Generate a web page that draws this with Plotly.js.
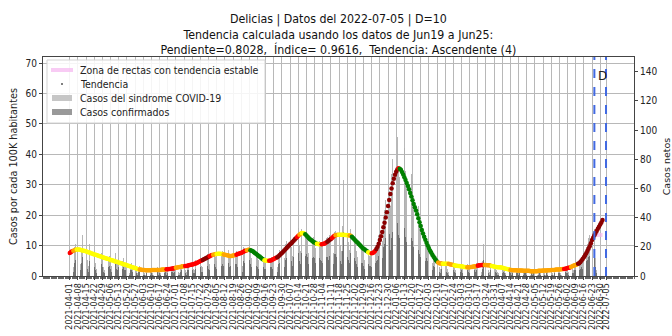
<!DOCTYPE html>
<html>
<head>
<meta charset="utf-8">
<script src="https://cdn.plot.ly/plotly-3.0.1.min.js"></script>
<style>
html,body{margin:0;padding:0;background:#fff;}
#chart{width:672px;height:336px;}
</style>
</head>
<body>
<div id="chart"></div>
<script>
// ---- Data ----
const meses = ['2021-04','2021-05','2021-06','2021-07','2021-08','2021-09','2021-10','2021-11','2021-12',
               '2022-01','2022-02','2022-03','2022-04','2022-05','2022-06','2022-07'];

// Trend (cases per 100K inhabitants), one sub-array per month, daily values
const tendenciaPorMes = [
  [7.6,7.9,8.1,8.3,8.5,8.6,8.7,8.7,8.7,8.6,8.5,8.4,8.3,8.2,8.1,7.9,7.8,7.7,7.5,7.4,7.2,7.1,7.0,6.9,6.7,6.6,6.5,6.3,6.2,6.1],
  [5.9,5.8,5.7,5.6,5.5,5.3,5.2,5.1,4.9,4.8,4.7,4.6,4.4,4.3,4.2,4.0,3.9,3.8,3.7,3.5,3.4,3.3,3.1,3.0,2.9,2.7,2.6,2.5,2.3,2.2,2.1],
  [2.1,2.0,2.0,2.0,1.9,1.9,1.9,1.9,1.9,1.9,2.0,2.0,2.0,2.0,2.0,2.0,2.0,2.0,2.1,2.1,2.1,2.1,2.2,2.2,2.3,2.3,2.4,2.5,2.5,2.6],
  [2.7,2.8,2.9,3.0,3.0,3.1,3.2,3.2,3.3,3.3,3.4,3.5,3.6,3.7,3.8,3.9,4.0,4.1,4.3,4.5,4.7,4.9,5.1,5.3,5.5,5.7,5.9,6.1,6.3,6.5,6.7],
  [6.9,7.0,7.1,7.2,7.2,7.3,7.3,7.3,7.2,7.2,7.1,7.0,6.9,6.8,6.7,6.6,6.6,6.6,6.7,6.8,6.9,7.0,7.2,7.3,7.5,7.6,7.8,8.0,8.2,8.3,8.5],
  [8.6,8.6,8.5,8.3,8.1,7.8,7.5,7.2,6.9,6.6,6.3,6.0,5.7,5.4,5.2,5.1,5.0,5.0,5.0,5.1,5.2,5.4,5.6,5.8,6.0,6.2,6.5,6.8,7.2,7.6],
  [8.0,8.4,8.8,9.2,9.6,10.0,10.4,10.8,11.2,11.6,12.0,12.4,12.8,13.2,13.6,13.9,14.1,14.1,14.0,13.7,13.3,12.9,12.5,12.1,11.8,11.5,11.2,11.0,10.8,10.6,10.5],
  [10.4,10.4,10.4,10.5,10.6,10.8,11.0,11.3,11.6,11.9,12.2,12.5,12.9,13.2,13.4,13.5,13.6,13.6,13.6,13.6,13.6,13.6,13.5,13.5,13.4,13.4,13.3,13.2,12.9,12.5],
  [12.1,11.7,11.3,10.9,10.5,10.1,9.7,9.3,9.0,8.7,8.4,8.1,7.8,7.6,7.5,7.5,7.6,7.9,8.3,8.9,9.6,10.6,11.8,13.1,14.5,16.0,17.5,19.2,21.0,23.0,25.0],
  [27.0,28.8,30.5,32.0,33.3,34.3,35.0,35.4,35.3,34.9,34.2,33.4,32.5,31.6,30.6,29.6,28.5,27.3,26.1,24.9,23.7,22.6,21.5,20.3,19.0,17.7,16.4,15.1,14.0,12.9,11.9],
  [10.9,10.0,9.2,8.4,7.7,7.0,6.4,5.8,5.3,4.8,4.4,4.2,4.1,4.1,4.0,4.0,4.0,4.0,4.0,4.0,3.9,3.8,3.7,3.6,3.5,3.4,3.4,3.3],
  [3.3,3.2,3.2,3.1,3.0,3.0,2.9,2.9,2.9,2.9,3.0,3.0,3.1,3.1,3.2,3.3,3.4,3.5,3.5,3.6,3.6,3.6,3.6,3.6,3.5,3.5,3.5,3.4,3.3,3.2,3.1],
  [3.0,3.0,2.9,2.9,2.9,2.8,2.7,2.6,2.5,2.4,2.3,2.2,2.1,2.0,2.0,1.9,1.9,1.9,1.9,1.8,1.8,1.8,1.8,1.8,1.7,1.7,1.7,1.7,1.7,1.7],
  [1.6,1.6,1.6,1.6,1.6,1.6,1.6,1.7,1.7,1.7,1.7,1.8,1.8,1.8,1.8,1.9,1.9,1.9,2.0,2.0,2.0,2.0,2.1,2.1,2.1,2.1,2.2,2.2,2.3,2.3,2.4],
  [2.5,2.6,2.7,2.8,3.0,3.2,3.4,3.5,3.6,3.8,4.0,4.2,4.6,5.1,5.6,6.2,6.8,7.5,8.2,9.0,9.8,10.8,11.8,12.6,13.4,14.1,14.8,15.5,16.2,16.9],
  [17.6,18.4]
];

// Trend category per period (last date of each run, category)
const tendenciaCategorias = [
  ['2021-04-03','Ascendente'],['2021-04-06','Ligera'],['2021-05-30','Estable'],['2021-06-22','Ligera'],
  ['2021-06-30','Ascendente'],['2021-07-08','Ligera'],['2021-07-23','Ascendente'],['2021-07-29','Fuerte'],
  ['2021-08-01','Ascendente'],['2021-08-04','Ligera'],['2021-08-10','Estable'],['2021-08-21','Ligera'],
  ['2021-08-30','Ascendente'],['2021-09-02','Ligera'],['2021-09-14','Descendente'],['2021-09-18','Estable'],
  ['2021-09-25','Ascendente'],['2021-10-12','Fuerte'],['2021-10-14','Ascendente'],['2021-10-16','Ligera'],
  ['2021-10-19','Estable'],['2021-10-29','Descendente'],['2021-11-02','Estable'],['2021-11-07','Ascendente'],
  ['2021-11-11','Fuerte'],['2021-11-14','Ascendente'],['2021-11-17','Ligera'],['2021-11-26','Estable'],
  ['2021-11-28','Ligera'],['2021-12-12','Descendente'],['2021-12-15','Estable'],['2021-12-19','Ascendente'],
  ['2022-01-07','Fuerte'],['2022-01-08','Ascendente'],['2022-02-10','Descendente'],['2022-02-14','Ligera'],
  ['2022-02-19','Estable'],['2022-02-24','Ligera'],['2022-03-07','Estable'],['2022-03-16','Ligera'],
  ['2022-03-22','Ascendente'],['2022-03-28','Ligera'],['2022-04-13','Estable'],['2022-05-29','Ligera'],
  ['2022-06-04','Ascendente'],['2022-06-10','Ligera'],['2022-07-02','Fuerte']
];

// Daily net cases: COVID-19 syndrome cases (light) and confirmed cases (dark), per month
const sindromePorMes = [
  [12,18,9,6,20,22,25,17,14,8,19,28,16,21,19,11,7,22,18,15,20,13,9,5,17,21,14,16,12,6],
  [4,15,18,12,14,10,7,3,13,16,11,9,12,6,4,10,12,8,9,7,3,2,8,9,7,6,5,4,2,6,7],
  [5,4,3,2,1,5,6,4,3,5,2,1,4,5,6,3,4,2,1,5,4,6,3,5,2,3,6,7,5,6],
  [4,7,3,2,6,8,5,7,4,3,8,9,6,7,9,5,4,11,10,12,9,13,7,6,14,16,12,15,11,8,17],
  [18,15,16,13,10,7,19,20,14,17,15,12,8,16,18,13,14,11,9,5,16,17,13,18,15,9,7,20,19,17,21],
  [16,22,17,12,8,20,19,15,13,11,8,5,14,12,10,11,9,6,4,12,13,10,14,13,9,6,16,18,17,20],
  [15,12,22,24,19,25,26,20,14,27,29,28,24,33,21,17,32,38,35,29,31,26,16,50,30,25,27,24,19,14,26],
  [24,22,21,18,13,20,26,27,23,28,24,19,16,30,31,27,33,28,21,17,34,66,31,29,27,23,18,32,27,22],
  [25,21,17,13,26,22,19,18,15,11,8,17,16,14,15,12,9,7,18,20,23,28,30,26,24,40,45,52,60,64,58],
  [48,70,80,92,98,104,95,75,68,90,105,100,88,72,60,58,78,82,70,65,55,42,40,52,48,40,36,30,24,22,28],
  [25,20,18,15,12,9,14,13,11,9,8,6,5,10,9,8,10,7,5,3,9,8,7,9,6,4,3,8],
  [7,6,8,5,3,2,7,8,6,5,7,4,3,8,7,9,6,8,4,3,10,22,8,9,7,4,3,8,6,7,5],
  [6,4,3,2,7,6,5,6,4,2,1,5,6,4,3,4,2,1,5,4,3,4,2,1,2,5,4,3,4,2],
  [1,4,3,4,3,2,1,3,4,2,5,3,2,1,4,3,5,4,3,2,1,4,5,3,4,5,2,1,4,5,6],
  [5,4,3,7,6,5,4,8,9,7,6,8,10,12,11,14,13,20,22,26,28,30,36,40,32,12,4,0,0,0]
];
const confirmadosPorMes = [
  [6,8,4,3,9,11,12,8,7,4,9,13,8,10,9,5,3,10,9,7,10,6,4,2,8,10,7,8,6,3],
  [2,7,9,6,7,5,3,1,6,8,5,4,6,3,2,5,6,4,4,3,1,1,4,4,3,3,2,2,1,3,3],
  [2,2,1,1,0,2,3,2,1,2,1,0,2,2,3,1,2,1,0,2,2,3,1,2,1,1,3,3,2,3],
  [2,3,1,1,3,4,2,3,2,1,4,4,3,3,4,2,2,5,5,6,4,6,3,3,7,8,6,7,5,4,8],
  [9,7,8,6,5,3,9,10,7,8,7,6,4,8,9,6,7,5,4,2,8,8,6,9,7,4,3,10,9,8,10],
  [8,11,8,6,4,10,9,7,6,5,4,2,7,6,5,5,4,3,2,6,6,5,7,6,4,3,8,9,8,10],
  [7,6,11,12,9,12,13,10,7,13,14,14,12,16,10,8,16,19,17,14,15,13,8,25,15,12,13,12,9,7,13],
  [12,11,10,9,6,10,13,13,11,14,12,9,8,15,15,13,16,14,10,8,17,30,15,14,13,11,9,16,13,11],
  [12,10,8,6,13,11,9,9,7,5,4,8,8,7,7,6,4,3,9,10,11,14,15,13,12,20,22,26,30,32,29],
  [18,26,30,35,38,40,36,28,26,34,40,38,33,27,23,22,29,31,26,24,20,16,15,19,18,15,13,11,9,8,10],
  [12,10,9,7,6,4,7,6,5,4,4,3,2,5,4,4,5,3,2,1,4,4,3,4,3,2,1,4],
  [3,3,4,2,1,1,3,4,3,2,3,2,1,4,3,4,3,4,2,1,5,11,4,4,3,2,1,4,3,3,2],
  [3,2,1,1,3,3,2,3,2,1,0,2,3,2,1,2,1,0,2,2,1,2,1,0,1,2,2,1,2,1],
  [0,2,1,2,1,1,0,1,2,1,2,1,1,0,2,1,2,2,1,1,0,2,2,1,2,2,1,0,2,2,3],
  [2,2,1,3,3,2,2,4,4,3,3,4,5,6,5,7,6,10,11,13,14,15,18,20,16,6,2,0,0,0]
];

// Stable-trend zone (pink)
const zonaFechas = ['2022-06-26','2022-07-02'];
const zonaValores = [13.5, 13.5];

// Reference dates (vertical dashed lines)
const fechaFinTendencia = '2022-06-25';
const fechaDatos = '2022-07-05';

// X tick labels
const etiquetasX = ['2021-04-01','2021-04-08','2021-04-15','2021-04-22','2021-04-29','2021-05-06','2021-05-13','2021-05-20','2021-05-27',
'2021-06-03','2021-06-10','2021-06-17','2021-06-24','2021-07-01','2021-07-08','2021-07-15','2021-07-22','2021-07-29',
'2021-08-05','2021-08-12','2021-08-19','2021-08-26','2021-09-02','2021-09-09','2021-09-16','2021-09-23','2021-09-30',
'2021-10-07','2021-10-14','2021-10-21','2021-10-28','2021-11-04','2021-11-11','2021-11-18','2021-11-25','2021-12-02',
'2021-12-09','2021-12-16','2021-12-23','2021-12-30','2022-01-06','2022-01-13','2022-01-20','2022-01-27','2022-02-03',
'2022-02-10','2022-02-17','2022-02-24','2022-03-03','2022-03-10','2022-03-17','2022-03-24','2022-03-31','2022-04-07',
'2022-04-14','2022-04-21','2022-04-28','2022-05-05','2022-05-12','2022-05-19','2022-05-26','2022-06-02','2022-06-09',
'2022-06-16','2022-06-23','2022-06-30','2022-07-05'];

const titulo = 'Delicias | Datos del 2022-07-05 | D=10<br>Tendencia calculada usando los datos de Jun19 a Jun25:<br>Pendiente=0.8028,&nbsp; Índice= 0.9616,&nbsp; Tendencia: Ascendente (4)';

const nombreZona = 'Zona de rectas con tendencia estable';
const nombreTendencia = 'Tendencia';
const nombreSindrome = 'Casos del sindrome COVID-19';
const nombreConfirmados = 'Casos confirmados';

// ---- Build daily series ----
function fechaDia(mes, i) {
  const [y, m] = mes.split('-').map(Number);
  return new Date(Date.UTC(y, m - 1, 1 + i)).toISOString().slice(0, 10);
}
function aplanar(porMes) {
  const xs = [], ys = [];
  porMes.forEach((arr, k) => arr.forEach((v, i) => { xs.push(fechaDia(meses[k], i)); ys.push(v); }));
  return {xs, ys};
}
const tend = aplanar(tendenciaPorMes);
const sind = aplanar(sindromePorMes);
const conf = aplanar(confirmadosPorMes);

const colorCat = {Estable:'#ffff00', Ligera:'#ffa500', Ascendente:'#ff0000', Fuerte:'#8b0000', Descendente:'#008000'};
const tendColores = tend.xs.map(d => {
  for (const [fin, cat] of tendenciaCategorias) if (d <= fin) return colorCat[cat];
  return colorCat.Fuerte;
});

const DIA = 86400000;
const fontC = '"DejaVu Sans Condensed", "DejaVu Sans", sans-serif';
const fontN = '"DejaVu Sans", sans-serif';

// plot-area geometry (pixels) for the hand-made legend
const W = 672, H = 336, M = {l:43, r:38, t:57, b:60};
const pw = W - M.l - M.r, ph = H - M.t - M.b;
const px = p => (p - M.l) / pw;
const py = p => (H - M.b - p) / ph;

const colLight = 'rgba(175,175,175,0.9)';
const colDark = 'rgba(105,105,105,0.9)';
const colZona = 'rgba(245,185,240,0.75)';

const traces = [
  {type:'bar', x:sind.xs, y:sind.ys, yaxis:'y', width:0.5*DIA,
   marker:{color:colLight, line:{width:0}}, name:nombreSindrome, showlegend:false},
  {type:'bar', x:conf.xs, y:conf.ys, yaxis:'y', width:0.5*DIA,
   marker:{color:colDark, line:{width:0}}, name:nombreConfirmados, showlegend:false},
  {type:'scatter', mode:'lines', x:zonaFechas, y:zonaValores, yaxis:'y2',
   line:{color:colZona, width:4}, name:nombreZona, showlegend:false},
  {type:'scatter', mode:'markers', x:tend.xs, y:tend.ys, yaxis:'y2', showlegend:false,
   marker:{color:tendColores, size:4.5, line:{width:0}}, name:nombreTendencia}
];

// legend (drawn as shapes + annotations, matplotlib-like compact layout)
const legRows = [70, 84, 98, 112];
const legShapes = [
  {type:'rect', xref:'paper', yref:'paper', x0:px(47), x1:px(265), y0:py(123), y1:py(60),
   fillcolor:'rgba(255,255,255,0.85)', line:{color:'#d3d3d3', width:1}, layer:'above'},
  {type:'line', xref:'paper', yref:'paper', x0:px(51), x1:px(73), y0:py(legRows[0]), y1:py(legRows[0]),
   line:{color:colZona, width:4}, layer:'above'},
  {type:'circle', xref:'paper', yref:'paper', x0:px(61), x1:px(63), y0:py(legRows[1]+1), y1:py(legRows[1]-1),
   fillcolor:'#555', line:{width:0}, layer:'above'},
  {type:'rect', xref:'paper', yref:'paper', x0:px(52), x1:px(72), y0:py(legRows[2]+3), y1:py(legRows[2]-3),
   fillcolor:'#c6c6c6', line:{width:0}, layer:'above'},
  {type:'rect', xref:'paper', yref:'paper', x0:px(52), x1:px(72), y0:py(legRows[3]+3), y1:py(legRows[3]-3),
   fillcolor:'#999999', line:{width:0}, layer:'above'}
];
const legTexts = [nombreZona, nombreTendencia, nombreSindrome, nombreConfirmados].map((t, i) => ({
  text:t, xref:'paper', yref:'paper', x:px(78), y:py(legRows[i]), xanchor:'left', yanchor:'middle',
  showarrow:false, font:{family:fontC, size:10.5, color:'#222'}
}));

const layout = {
  width:W, height:H,
  margin:{l:M.l, r:M.r, t:M.t, b:M.b, pad:0},
  paper_bgcolor:'#ffffff', plot_bgcolor:'#ffffff',
  showlegend:false,
  barmode:'overlay', bargap:0,
  font:{family:fontC, size:10, color:'#222'},
  title:{text:titulo, x:0.5035, xanchor:'center', yref:'container', y:0.933, yanchor:'top',
         font:{family:fontC, size:12.3, color:'#111'}},
  xaxis:{type:'date', range:['2021-03-09','2022-07-29'],
         tickmode:'array', tickvals:etiquetasX, ticktext:etiquetasX, tickangle:-90,
         tickfont:{family:fontN, size:8, color:'#222'},
         ticks:'outside', ticklen:3, tickcolor:'#444',
         minor:{ticks:'outside', ticklen:2, tickcolor:'#666', dtick:DIA, tick0:'2021-03-01', showgrid:false},
         showgrid:true, gridcolor:'#b8b8b8', gridwidth:1,
         showline:true, mirror:true, linecolor:'#444', linewidth:1, zeroline:false, automargin:false},
  yaxis:{side:'right', range:[0,150], tickmode:'linear', tick0:0, dtick:20,
         showgrid:false, zeroline:false, showline:true, mirror:true, linecolor:'#444', linewidth:1,
         ticks:'outside', ticklen:3, tickcolor:'#444', tickfont:{family:fontC, size:10, color:'#222'},
         title:{text:'Casos netos', font:{family:fontN, size:9.5, color:'#222'}, standoff:6}, automargin:false},
  yaxis2:{overlaying:'y', side:'left', range:[0,72], tickmode:'linear', tick0:0, dtick:10,
          showgrid:true, gridcolor:'#b8b8b8', gridwidth:1, zeroline:false,
          ticks:'outside', ticklen:3, tickcolor:'#444', tickfont:{family:fontC, size:10, color:'#222'},
          title:{text:'Casos por cada 100K habitantes', font:{family:fontN, size:9.7, color:'#222'}, standoff:6}, automargin:false},
  shapes:[
    {type:'line', xref:'x', yref:'paper', x0:fechaFinTendencia, x1:fechaFinTendencia, y0:0, y1:1,
     line:{color:'#4169e1', width:2, dash:'dash'}, layer:'above'},
    {type:'line', xref:'x', yref:'paper', x0:fechaDatos, x1:fechaDatos, y0:0, y1:1,
     line:{color:'#4169e1', width:2, dash:'dash'}, layer:'above'}
  ].concat(legShapes),
  annotations:[
    {text:'D', xref:'x', yref:'paper', x:'2022-07-02', y:0.915, xanchor:'center', yanchor:'middle',
     showarrow:false, font:{family:fontN, size:12, color:'#222'}}
  ].concat(legTexts)
};

Plotly.newPlot('chart', traces, layout, {displayModeBar:false, staticPlot:true});
</script>
</body>
</html>
